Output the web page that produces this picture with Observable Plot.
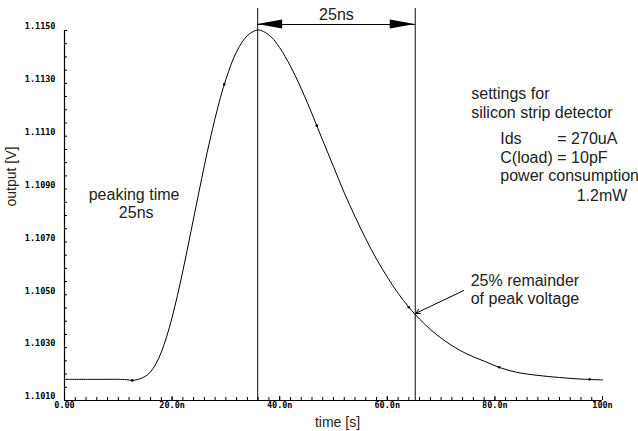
<!DOCTYPE html>
<html><head><meta charset="utf-8">
<script src="https://cdn.jsdelivr.net/npm/d3@7"></script>
<script src="https://cdn.jsdelivr.net/npm/@observablehq/plot@0.6"></script>
<style>body{margin:0;background:#fff}</style>
</head><body><div id="chart"></div>
<script>
// time in ns, output in V
const times = [0, 5, 10, 11.5, 12.6, 13.5, 14.5, 15.5, 16.5, 17.5, 18.5, 19.5, 20.5, 21.5, 22.5, 23.5, 24.5, 25.5, 26.5, 27.5, 28.5, 29.5, 30.5, 31.5, 32.5, 33.5, 34.5, 35.9, 37, 38.5, 40, 42, 44, 46, 48, 50, 52, 54, 56, 58, 60, 62, 64, 66, 68, 70, 72, 75, 78, 81, 84, 88, 92, 96, 100];
const volts = [1.10180, 1.10180, 1.10180, 1.10179, 1.10176, 1.10179, 1.10186, 1.10198, 1.10222, 1.10259, 1.10311, 1.10377, 1.10455, 1.10543, 1.10639, 1.10739, 1.10840, 1.10940, 1.11037, 1.11126, 1.11209, 1.11283, 1.11345, 1.11399, 1.11439, 1.11470, 1.11489, 1.11502, 1.11496, 1.11474, 1.11435, 1.11365, 1.11280, 1.11185, 1.11084, 1.10985, 1.10886, 1.10796, 1.10712, 1.10635, 1.10567, 1.10506, 1.10453, 1.10408, 1.10369, 1.10336, 1.10308, 1.10274, 1.10249, 1.10224, 1.10207, 1.10195, 1.10187, 1.10181, 1.10178];
const markerTimes = [12.6, 29.7, 46.9, 64.0, 80.8, 97.6];
const markerVolts = [1.10176, 1.11296, 1.11140, 1.10453, 1.10226, 1.10180];
const xTicks = [0, 20, 40, 60, 80, 100];
const xTickLabels = ["0.00", "20.0n", "40.0n", "60.0n", "80.0n", "100n"];
const yTicks = [1.1010, 1.1030, 1.1050, 1.1070, 1.1090, 1.1110, 1.1130, 1.1150];
const cursorTimes = [35.9, 65.2];
const spanLabel = "25ns";
const notesLeft = ["peaking time", "25ns"];
const notesRight = ["settings for", "silicon strip detector"];
const settingNames = ["Ids", "C(load)"];
const settingValues = ["= 270uA", "= 10pF"];
const powerLines = ["power consumption", "1.2mW"];
const remainderLines = ["25% remainder", "of peak voltage"];

const curve = times.map((t, i) => ({t, v: volts[i]}));
const markers = markerTimes.map((t, i) => ({t, v: markerVolts[i]}));

const Y0 = 1.1010, Y1 = 1.1150;
const pxPerV = 370 / (Y1 - Y0);          // vertical scale helper for annotation offsets
const pxPerNs = 538 / 100;
const cursorTop = Y1 + 22 / pxPerV;
const arrowV = Y1 + 6 / pxPerV;
const headLen = 25 / pxPerNs, headHalf = 4.5 / pxPerV;

const sans = "Liberation Sans, Arial, Helvetica, sans-serif";
const mono = "DejaVu Sans Mono, monospace";

const head = (tip, dir) => [
  {t: tip, a: arrowV, b: arrowV},
  {t: tip + dir * headLen, a: arrowV - headHalf, b: arrowV + headHalf}
].sort((p, q) => p.t - q.t);

const chart = Plot.plot({
  width: 638, height: 431,
  marginLeft: 64, marginRight: 36, marginTop: 30, marginBottom: 31,
  style: {background: "#fff", overflow: "visible"},
  x: {domain: [0, 100], label: null},
  y: {domain: [Y0, Y1], label: null},
  marks: [
    // axis lines
    Plot.ruleY([Y0], {stroke: "#000", strokeWidth: 1.2}),
    Plot.ruleX([0], {stroke: "#000", strokeWidth: 1.2}),
    // x ticks
    Plot.axisX(d3.range(0, 100.001, 2), {tickSize: -3, tickFormat: () => "", stroke: "#000", label: null}),
    Plot.axisX(xTicks, {tickSize: -4, tickPadding: 5, tickFormat: d => xTickLabels[xTicks.indexOf(d)], fontFamily: mono, fontWeight: "bold", fontSize: 8.5, fill: "#000", label: null}),
    // y ticks
    Plot.axisY(d3.range(0, 29).map(k => Y0 + k * 0.0005), {tickSize: -3, tickFormat: () => "", stroke: "#000", label: null}),
    Plot.axisY(yTicks, {tickSize: 0, tickPadding: 9, dy: -4, tickFormat: d3.format(".4f"), fontFamily: mono, fontWeight: "bold", fontSize: 8.5, fill: "#000", label: null}),
    // axis titles
    Plot.text(["output [V]"], {frameAnchor: "left", rotate: -90, dx: -53, dy: -9, fontFamily: sans, fontSize: 14, fill: "#222"}),
    Plot.text(["time [s]"], {frameAnchor: "bottom", dx: 4, dy: 26, fontFamily: sans, fontSize: 14, fill: "#222"}),
    // cursors
    Plot.ruleX(cursorTimes, {x: d => d, y1: Y0, y2: cursorTop, stroke: "#222", strokeWidth: 1.1}),
    Plot.ruleY([arrowV], {x1: cursorTimes[0], x2: cursorTimes[1], stroke: "#000", strokeWidth: 1.2}),
    Plot.areaY(head(cursorTimes[0], 1), {x: "t", y1: "a", y2: "b", fill: "#000"}),
    Plot.areaY(head(cursorTimes[1], -1), {x: "t", y1: "a", y2: "b", fill: "#000"}),
    Plot.text([spanLabel], {x: (cursorTimes[0] + cursorTimes[1]) / 2, y: Y1 + 16 / pxPerV, fontFamily: sans, fontSize: 16, fill: "#222"}),
    // waveform
    Plot.line(curve, {x: "t", y: "v", curve: "catmull-rom", stroke: "#000", strokeWidth: 1}),
    Plot.dot(markers, {x: "t", y: "v", r: 1.3, fill: "#000", stroke: null}),
    // annotations
    Plot.text([notesLeft[0]], {x: 4.5, y: Y0 + 206 / pxPerV, textAnchor: "start", fontFamily: sans, fontSize: 16, fill: "#222"}),
    Plot.text([notesLeft[1]], {x: 10.1, y: Y0 + 188 / pxPerV, textAnchor: "start", fontFamily: sans, fontSize: 16, fill: "#222"}),
    Plot.text(notesRight, {x: 75.6, y: (d, i) => Y0 + (307 - 19 * i) / pxPerV, textAnchor: "start", fontFamily: sans, fontSize: 16, fill: "#222"}),
    Plot.text(settingNames, {x: 81.0, y: (d, i) => Y0 + (262 - 19 * i) / pxPerV, textAnchor: "start", fontFamily: sans, fontSize: 16, fill: "#222"}),
    Plot.text(settingValues, {x: 91.6, y: (d, i) => Y0 + (262 - 19 * i) / pxPerV, textAnchor: "start", fontFamily: sans, fontSize: 16, fill: "#222"}),
    Plot.text([powerLines[0]], {x: 81.0, y: Y0 + 225 / pxPerV, textAnchor: "start", fontFamily: sans, fontSize: 16, fill: "#222"}),
    Plot.text([powerLines[1]], {x: 95.2, y: Y0 + 205 / pxPerV, textAnchor: "start", fontFamily: sans, fontSize: 16, fill: "#222"}),
    Plot.text(remainderLines, {x: 75.5, y: (d, i) => Y0 + (120 - 18 * i) / pxPerV, textAnchor: "start", fontFamily: sans, fontSize: 16, fill: "#222"}),
    Plot.arrow([{x1: 74.2, y1: 1.10516, x2: 65.3, y2: 1.1043}], {x1: "x1", y1: "y1", x2: "x2", y2: "y2", stroke: "#000", strokeWidth: 1, headLength: 7, bend: 0})
  ]
});
document.getElementById("chart").append(chart);
</script>
</body></html>
